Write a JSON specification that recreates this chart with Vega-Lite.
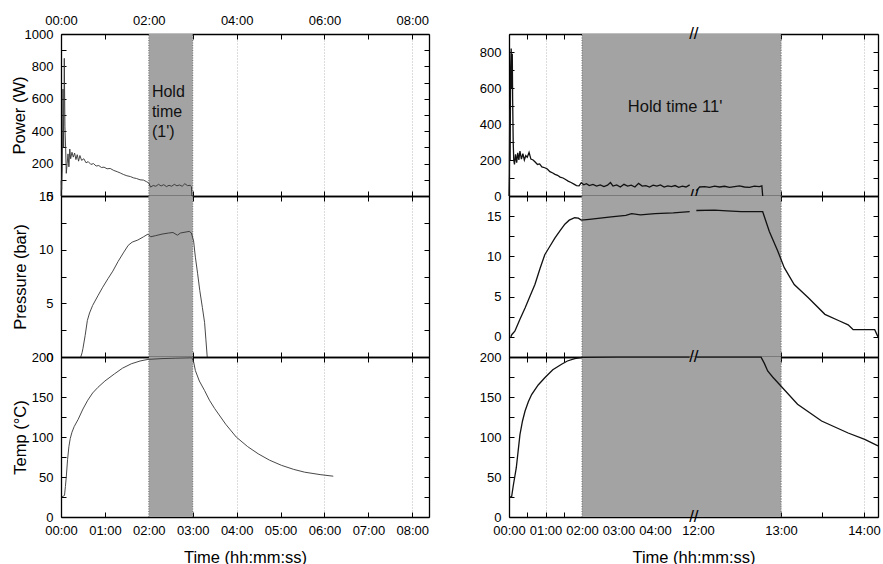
{
"$schema": "https://vega.github.io/schema/vega-lite/v6.json",
"padding": {"left": 11, "top": 14, "right": 0, "bottom": 0},
"background": "white",
"config": {
  "font": "Liberation Sans",
  "view": {"stroke": null},
  "axis": {"labelFont": "Liberation Sans", "labelFontSize": 13, "labelColor": "#000", "titleFont": "Liberation Sans", "titleFontSize": 16.5, "titleFontWeight": "normal", "titleColor": "#000", "domainColor": "#000", "domainWidth": 1.3, "tickColor": "#000", "tickWidth": 1, "tickSize": -5, "gridColor": "#b8b8b8", "gridDash": [1, 2], "gridWidth": 1, "gridOpacity": 0, "labelOverlap": false, "labelFlush": false, "labelBound": false, "labelPadding": 13, "zindex": 1}
},
"datasets": {
  "holdL": [{"start": 2, "end": 3}],
  "holdR": [{"start": 2, "end": 13}],
  "noteL": [{"t": 2.07, "v": 614, "label": "Hold\ntime\n(1')"}],
  "noteR": [{"t": 4.55, "v": 467, "label": "Hold time 11'"}],
  "brkP": [{"t": 11.95, "v": 900}, {"t": 11.95, "v": 0}],
  "brkT": [{"t": 11.95, "v": 200}, {"t": 11.95, "v": 0}],
  "Lpow": [{"t":0.0,"v":0},{"t":0.005,"v":95},{"t":0.015,"v":40},{"t":0.03,"v":180},{"t":0.045,"v":660},{"t":0.06,"v":300},{"t":0.075,"v":850},{"t":0.09,"v":430},{"t":0.105,"v":300},{"t":0.12,"v":140},{"t":0.14,"v":200},{"t":0.16,"v":260},{"t":0.18,"v":180},{"t":0.2,"v":290},{"t":0.22,"v":230},{"t":0.25,"v":270},{"t":0.28,"v":240},{"t":0.31,"v":265},{"t":0.34,"v":225},{"t":0.37,"v":255},{"t":0.4,"v":215},{"t":0.43,"v":250},{"t":0.47,"v":220},{"t":0.52,"v":230},{"t":0.57,"v":205},{"t":0.62,"v":212},{"t":0.68,"v":195},{"t":0.74,"v":200},{"t":0.8,"v":185},{"t":0.86,"v":188},{"t":0.92,"v":176},{"t":0.98,"v":178},{"t":1.05,"v":168},{"t":1.12,"v":170},{"t":1.2,"v":158},{"t":1.28,"v":150},{"t":1.35,"v":142},{"t":1.42,"v":133},{"t":1.5,"v":125},{"t":1.58,"v":120},{"t":1.65,"v":112},{"t":1.72,"v":108},{"t":1.8,"v":100},{"t":1.88,"v":98},{"t":1.95,"v":88},{"t":2.0,"v":80},{"t":2.04,"v":55},{"t":2.1,"v":65},{"t":2.16,"v":60},{"t":2.22,"v":72},{"t":2.28,"v":62},{"t":2.34,"v":70},{"t":2.4,"v":58},{"t":2.46,"v":66},{"t":2.52,"v":60},{"t":2.58,"v":72},{"t":2.64,"v":63},{"t":2.7,"v":68},{"t":2.76,"v":60},{"t":2.82,"v":76},{"t":2.88,"v":64},{"t":2.94,"v":66},{"t":2.97,"v":58},{"t":2.98,"v":0}],
  "Lpre": [{"t":0.45,"v":0},{"t":0.48,"v":0.4},{"t":0.5,"v":0.8},{"t":0.55,"v":2.0},{"t":0.6,"v":3.4},{"t":0.65,"v":4.1},{"t":0.72,"v":4.8},{"t":0.84,"v":5.7},{"t":0.95,"v":6.5},{"t":1.07,"v":7.3},{"t":1.18,"v":8.0},{"t":1.3,"v":8.9},{"t":1.42,"v":9.7},{"t":1.53,"v":10.4},{"t":1.62,"v":10.7},{"t":1.75,"v":10.9},{"t":1.88,"v":11.2},{"t":1.98,"v":11.45},{"t":2.04,"v":11.2},{"t":2.15,"v":11.3},{"t":2.3,"v":11.45},{"t":2.45,"v":11.55},{"t":2.55,"v":11.6},{"t":2.65,"v":11.35},{"t":2.72,"v":11.55},{"t":2.85,"v":11.65},{"t":2.92,"v":11.7},{"t":2.97,"v":11.55},{"t":3.02,"v":10.8},{"t":3.06,"v":9.3},{"t":3.11,"v":7.8},{"t":3.16,"v":6.2},{"t":3.22,"v":4.6},{"t":3.27,"v":3.2},{"t":3.3,"v":1.6},{"t":3.33,"v":0}],
  "Ltmp": [{"t":0.02,"v":25},{"t":0.08,"v":27},{"t":0.1,"v":38},{"t":0.12,"v":50},{"t":0.15,"v":72},{"t":0.18,"v":88},{"t":0.21,"v":98},{"t":0.25,"v":106},{"t":0.3,"v":113},{"t":0.39,"v":122},{"t":0.5,"v":135},{"t":0.61,"v":146},{"t":0.72,"v":155},{"t":0.84,"v":162},{"t":1.0,"v":170},{"t":1.22,"v":179},{"t":1.4,"v":186},{"t":1.6,"v":191.5},{"t":1.8,"v":195},{"t":1.98,"v":197},{"t":2.3,"v":198},{"t":2.6,"v":198.5},{"t":2.98,"v":199},{"t":3.02,"v":194},{"t":3.06,"v":183},{"t":3.15,"v":170},{"t":3.27,"v":158},{"t":3.38,"v":146},{"t":3.5,"v":135.5},{"t":3.75,"v":116},{"t":3.99,"v":100},{"t":4.25,"v":88},{"t":4.49,"v":79},{"t":4.75,"v":71},{"t":5.02,"v":64.6},{"t":5.3,"v":59.5},{"t":5.55,"v":56},{"t":5.9,"v":53},{"t":6.2,"v":51}],
  "Rpow": [{"seg":0,"t":0.0,"v":0},{"seg":0,"t":0.01,"v":130},{"seg":0,"t":0.02,"v":480},{"seg":0,"t":0.03,"v":200},{"seg":0,"t":0.045,"v":713},{"seg":0,"t":0.06,"v":820},{"seg":0,"t":0.075,"v":600},{"seg":0,"t":0.09,"v":790},{"seg":0,"t":0.1,"v":530},{"seg":0,"t":0.115,"v":300},{"seg":0,"t":0.13,"v":200},{"seg":0,"t":0.15,"v":176},{"seg":0,"t":0.18,"v":231},{"seg":0,"t":0.21,"v":185},{"seg":0,"t":0.24,"v":240},{"seg":0,"t":0.27,"v":200},{"seg":0,"t":0.3,"v":250},{"seg":0,"t":0.34,"v":205},{"seg":0,"t":0.38,"v":235},{"seg":0,"t":0.42,"v":200},{"seg":0,"t":0.46,"v":225},{"seg":0,"t":0.5,"v":215},{"seg":0,"t":0.55,"v":242},{"seg":0,"t":0.6,"v":205},{"seg":0,"t":0.66,"v":200},{"seg":0,"t":0.71,"v":190},{"seg":0,"t":0.78,"v":175},{"seg":0,"t":0.84,"v":178},{"seg":0,"t":0.9,"v":162},{"seg":0,"t":0.98,"v":157},{"seg":0,"t":1.05,"v":150},{"seg":0,"t":1.12,"v":135},{"seg":0,"t":1.2,"v":128},{"seg":0,"t":1.26,"v":120},{"seg":0,"t":1.33,"v":115},{"seg":0,"t":1.4,"v":105},{"seg":0,"t":1.48,"v":100},{"seg":0,"t":1.55,"v":92},{"seg":0,"t":1.62,"v":83},{"seg":0,"t":1.7,"v":75},{"seg":0,"t":1.78,"v":66},{"seg":0,"t":1.85,"v":58},{"seg":0,"t":1.92,"v":56},{"seg":0,"t":1.98,"v":74},{"seg":0,"t":2.05,"v":62},{"seg":0,"t":2.12,"v":68},{"seg":0,"t":2.2,"v":58},{"seg":0,"t":2.3,"v":64},{"seg":0,"t":2.4,"v":55},{"seg":0,"t":2.5,"v":62},{"seg":0,"t":2.6,"v":52},{"seg":0,"t":2.7,"v":60},{"seg":0,"t":2.78,"v":75},{"seg":0,"t":2.85,"v":55},{"seg":0,"t":2.95,"v":62},{"seg":0,"t":3.05,"v":50},{"seg":0,"t":3.15,"v":65},{"seg":0,"t":3.25,"v":55},{"seg":0,"t":3.35,"v":60},{"seg":0,"t":3.45,"v":50},{"seg":0,"t":3.55,"v":70},{"seg":0,"t":3.65,"v":55},{"seg":0,"t":3.75,"v":58},{"seg":0,"t":3.85,"v":50},{"seg":0,"t":3.95,"v":60},{"seg":0,"t":4.05,"v":55},{"seg":0,"t":4.15,"v":62},{"seg":0,"t":4.25,"v":50},{"seg":0,"t":4.35,"v":56},{"seg":0,"t":4.45,"v":52},{"seg":0,"t":4.55,"v":58},{"seg":0,"t":4.65,"v":48},{"seg":0,"t":4.75,"v":55},{"seg":0,"t":4.85,"v":50},{"seg":0,"t":4.95,"v":62},{"seg":1,"t":11.98,"v":30},{"seg":1,"t":12.02,"v":50},{"seg":1,"t":12.08,"v":52},{"seg":1,"t":12.14,"v":48},{"seg":1,"t":12.2,"v":55},{"seg":1,"t":12.26,"v":50},{"seg":1,"t":12.32,"v":54},{"seg":1,"t":12.38,"v":48},{"seg":1,"t":12.44,"v":52},{"seg":1,"t":12.5,"v":56},{"seg":1,"t":12.56,"v":50},{"seg":1,"t":12.62,"v":48},{"seg":1,"t":12.68,"v":55},{"seg":1,"t":12.74,"v":52},{"seg":1,"t":12.77,"v":56},{"seg":1,"t":12.78,"v":0}],
  "Rpre": [{"seg":0,"t":0.05,"v":0},{"seg":0,"t":0.08,"v":0.3},{"seg":0,"t":0.16,"v":0.7},{"seg":0,"t":0.3,"v":2.2},{"seg":0,"t":0.44,"v":3.6},{"seg":0,"t":0.58,"v":5.1},{"seg":0,"t":0.71,"v":6.5},{"seg":0,"t":0.85,"v":8.5},{"seg":0,"t":0.98,"v":10.2},{"seg":0,"t":1.1,"v":11.1},{"seg":0,"t":1.26,"v":12.3},{"seg":0,"t":1.4,"v":13.2},{"seg":0,"t":1.53,"v":14.0},{"seg":0,"t":1.65,"v":14.5},{"seg":0,"t":1.8,"v":14.8},{"seg":0,"t":1.9,"v":14.75},{"seg":0,"t":1.98,"v":14.5},{"seg":0,"t":2.2,"v":14.6},{"seg":0,"t":2.5,"v":14.75},{"seg":0,"t":2.8,"v":14.9},{"seg":0,"t":3.0,"v":15.0},{"seg":0,"t":3.2,"v":15.1},{"seg":0,"t":3.36,"v":15.3},{"seg":0,"t":3.6,"v":15.15},{"seg":0,"t":4.0,"v":15.3},{"seg":0,"t":4.5,"v":15.4},{"seg":0,"t":4.95,"v":15.55},{"seg":1,"t":11.98,"v":15.7},{"seg":1,"t":12.2,"v":15.75},{"seg":1,"t":12.35,"v":15.65},{"seg":1,"t":12.52,"v":15.55},{"seg":1,"t":12.78,"v":15.55},{"seg":1,"t":12.86,"v":13.1},{"seg":1,"t":12.96,"v":10.7},{"seg":1,"t":13.04,"v":8.6},{"seg":1,"t":13.16,"v":6.5},{"seg":1,"t":13.33,"v":4.85},{"seg":1,"t":13.53,"v":2.8},{"seg":1,"t":13.7,"v":2.0},{"seg":1,"t":13.81,"v":1.5},{"seg":1,"t":13.86,"v":1.0},{"seg":1,"t":13.87,"v":0.9},{"seg":1,"t":14.13,"v":0.9},{"seg":1,"t":14.17,"v":0}],
  "Rtmp": [{"seg":0,"t":0.02,"v":25},{"seg":0,"t":0.07,"v":25},{"seg":0,"t":0.12,"v":40},{"seg":0,"t":0.2,"v":61.6},{"seg":0,"t":0.3,"v":103},{"seg":0,"t":0.37,"v":120},{"seg":0,"t":0.44,"v":132.5},{"seg":0,"t":0.53,"v":144},{"seg":0,"t":0.62,"v":153},{"seg":0,"t":0.8,"v":165},{"seg":0,"t":0.98,"v":174},{"seg":0,"t":1.2,"v":184},{"seg":0,"t":1.44,"v":191},{"seg":0,"t":1.6,"v":195},{"seg":0,"t":1.8,"v":198},{"seg":0,"t":2.0,"v":199.5},{"seg":0,"t":3.0,"v":199.8},{"seg":0,"t":4.95,"v":199.8},{"seg":1,"t":11.98,"v":199.8},{"seg":1,"t":12.76,"v":199.8},{"seg":1,"t":12.8,"v":192},{"seg":1,"t":12.84,"v":182.5},{"seg":1,"t":12.9,"v":175},{"seg":1,"t":12.98,"v":166},{"seg":1,"t":13.2,"v":141},{"seg":1,"t":13.49,"v":120},{"seg":1,"t":13.81,"v":105},{"seg":1,"t":14.01,"v":97},{"seg":1,"t":14.17,"v":89}]
},
"columns": 2,
"spacing": {"row": 0, "column": 80},
"bounds": "flush",
"concat": [
  {"width": 368, "height": 162,
   "resolve": {"axis": {"x": "independent", "y": "independent"}},
   "layer": [
    {"data": {"name": "holdL"}, "mark": {"type": "rect", "color": "#a3a3a3"},
     "encoding": {"x": {"field": "start", "type": "quantitative", "scale": {"domain": [0, 8.38], "nice": false, "zero": false}, "axis": {"orient": "bottom", "grid": true, "values": [0,1,2,3,4,5,6,7,8], "labels": false, "title": null}}, "x2": {"field": "end"},
      "y": {"datum": 0, "type": "quantitative", "scale": {"domain": [0, 1000], "nice": false, "zero": false}, "axis": null}, "y2": {"datum": 1000}}},
    {"data": {"name": "holdL"}, "transform": [{"fold": ["start", "end"], "as": ["edge", "t"]}], "mark": {"type": "rule", "color": "#6e6e6e", "strokeDash": [1, 1.5]},
     "encoding": {"x": {"field": "t", "type": "quantitative", "scale": {"domain": [0, 8.38], "nice": false, "zero": false}, "axis": {"orient": "bottom", "grid": true, "values": [2,4,6,8], "gridOpacity": 1, "ticks": false, "labels": false, "domain": false, "title": null, "zindex": 0}},
      "y": {"datum": 0, "type": "quantitative", "scale": {"domain": [0, 1000], "nice": false, "zero": false}, "axis": null}, "y2": {"datum": 1000}}},
    {"data": {"name": "Lpow"}, "mark": {"type": "line", "color": "#333", "strokeWidth": 0.9},
     "encoding": {"x": {"field": "t", "type": "quantitative", "scale": {"domain": [0, 8.38], "nice": false, "zero": false}, "axis": {"orient": "top", "grid": true, "values": [0,1,2,3,4,5,6,7,8], "labelExpr": "datum.value % 2 === 0 ? ((datum.value < 10 ? '0' : '') + datum.value + ':00') : ''", "labelPadding": 12, "title": null}},
      "y": {"field": "v", "type": "quantitative", "scale": {"domain": [0, 1000], "nice": false, "zero": false}, "axis": {"orient": "left", "grid": true, "values": [0,100,200,300,400,500,600,700,800,900,1000], "format": "d", "labelExpr": "datum.value % 200 === 0 ? datum.label : ''", "gridOpacity": {"condition": {"test": "datum.value % 200 === 0", "value": 1}, "value": 0}, "zindex": 0, "title": "Power (W)", "titleX": -42, "titleY": 81, "titleAngle": -90, "titleAlign": "center", "titleBaseline": "middle"}}}},
    {"data": {"name": "Lpow"}, "mark": {"type": "line", "strokeOpacity": 0},
     "encoding": {"x": {"field": "t", "type": "quantitative", "scale": {"domain": [0, 8.38], "nice": false, "zero": false}, "axis": null},
      "y": {"field": "v", "type": "quantitative", "scale": {"domain": [0, 1000], "nice": false, "zero": false}, "axis": {"orient": "right", "grid": true, "values": [0,100,200,300,400,500,600,700,800,900,1000], "labels": false, "title": null}}}},
    {"data": {"name": "noteL"}, "mark": {"type": "text", "align": "left", "baseline": "alphabetic", "fontSize": 16, "lineHeight": 20, "lineBreak": "\n", "color": "#111"},
     "encoding": {"x": {"field": "t", "type": "quantitative", "scale": {"domain": [0, 8.38], "nice": false, "zero": false}, "axis": null}, "y": {"field": "v", "type": "quantitative", "scale": {"domain": [0, 1000], "nice": false, "zero": false}, "axis": null}, "text": {"field": "label"}}}
   ]},
  {"width": 369, "height": 162,
   "resolve": {"axis": {"x": "independent", "y": "independent"}},
   "layer": [
    {"data": {"name": "holdR"}, "mark": {"type": "rect", "color": "#a3a3a3"},
     "encoding": {"x": {"field": "start", "type": "quantitative", "scale": {"domain": [0, 5, 11.95, 14.17], "range": [0, 182.5, 184.85, 369], "nice": false, "zero": false}, "axis": {"orient": "bottom", "grid": true, "values": [0,0.5,1,1.5,2,2.5,3,3.5,4,4.5,12,12.5,13,13.5,14], "labels": false, "title": null}}, "x2": {"field": "end"},
      "y": {"datum": 0, "type": "quantitative", "scale": {"domain": [0, 900], "nice": false, "zero": false}, "axis": null}, "y2": {"datum": 900}}},
    {"data": {"name": "holdR"}, "transform": [{"fold": ["start", "end"], "as": ["edge", "t"]}], "mark": {"type": "rule", "color": "#6e6e6e", "strokeDash": [1, 1.5]},
     "encoding": {"x": {"field": "t", "type": "quantitative", "scale": {"domain": [0, 5, 11.95, 14.17], "range": [0, 182.5, 184.85, 369], "nice": false, "zero": false}, "axis": {"orient": "bottom", "grid": true, "values": [1,2,3,4,12,13,14], "gridOpacity": 1, "ticks": false, "labels": false, "domain": false, "title": null, "zindex": 0}},
      "y": {"datum": 0, "type": "quantitative", "scale": {"domain": [0, 900], "nice": false, "zero": false}, "axis": null}, "y2": {"datum": 900}}},
    {"data": {"name": "Rpow"}, "mark": {"type": "line", "color": "#111", "strokeWidth": 1.3},
     "encoding": {"detail": {"field": "seg", "type": "nominal"}, "x": {"field": "t", "type": "quantitative", "scale": {"domain": [0, 5, 11.95, 14.17], "range": [0, 182.5, 184.85, 369], "nice": false, "zero": false}, "axis": {"orient": "top", "grid": true, "values": [0,0.5,1,1.5,2,2.5,3,3.5,4,4.5,12,12.5,13,13.5,14], "labels": false, "title": null}},
      "y": {"field": "v", "type": "quantitative", "scale": {"domain": [0, 900], "nice": false, "zero": false}, "axis": {"orient": "left", "grid": true, "values": [0,100,200,300,400,500,600,700,800,900], "format": "d", "labelExpr": "datum.value % 200 === 0 ? datum.label : ''", "gridOpacity": {"condition": {"test": "datum.value % 200 === 0", "value": 1}, "value": 0}, "zindex": 0, "title": null}}}},
    {"data": {"name": "Rpow"}, "mark": {"type": "line", "strokeOpacity": 0},
     "encoding": {"detail": {"field": "seg", "type": "nominal"}, "x": {"field": "t", "type": "quantitative", "scale": {"domain": [0, 5, 11.95, 14.17], "range": [0, 182.5, 184.85, 369], "nice": false, "zero": false}, "axis": null},
      "y": {"field": "v", "type": "quantitative", "scale": {"domain": [0, 900], "nice": false, "zero": false}, "axis": {"orient": "right", "grid": true, "values": [0,100,200,300,400,500,600,700,800,900], "labels": false, "title": null}}}},
    {"data": {"name": "noteR"}, "mark": {"type": "text", "align": "center", "baseline": "alphabetic", "fontSize": 16.5, "color": "#111"},
     "encoding": {"x": {"field": "t", "type": "quantitative", "scale": {"domain": [0, 5, 11.95, 14.17], "range": [0, 182.5, 184.85, 369], "nice": false, "zero": false}, "axis": null}, "y": {"field": "v", "type": "quantitative", "scale": {"domain": [0, 900], "nice": false, "zero": false}, "axis": null}, "text": {"field": "label"}}},
    {"data": {"name": "brkP"}, "mark": {"type": "text", "align": "center", "baseline": "middle", "fontSize": 17, "color": "#000", "text": "//"},
     "encoding": {"x": {"field": "t", "type": "quantitative", "scale": {"domain": [0, 5, 11.95, 14.17], "range": [0, 182.5, 184.85, 369], "nice": false, "zero": false}, "axis": null}, "y": {"field": "v", "type": "quantitative", "scale": {"domain": [0, 900], "nice": false, "zero": false}, "axis": null}}}
   ]},
  {"width": 368, "height": 161,
   "resolve": {"axis": {"x": "independent", "y": "independent"}},
   "layer": [
    {"data": {"name": "holdL"}, "mark": {"type": "rect", "color": "#a3a3a3"},
     "encoding": {"x": {"field": "start", "type": "quantitative", "scale": {"domain": [0, 8.38], "nice": false, "zero": false}, "axis": {"orient": "bottom", "grid": true, "values": [0,1,2,3,4,5,6,7,8], "labels": false, "title": null}}, "x2": {"field": "end"},
      "y": {"datum": 0, "type": "quantitative", "scale": {"domain": [0, 15], "nice": false, "zero": false}, "axis": null}, "y2": {"datum": 15}}},
    {"data": {"name": "holdL"}, "transform": [{"fold": ["start", "end"], "as": ["edge", "t"]}], "mark": {"type": "rule", "color": "#6e6e6e", "strokeDash": [1, 1.5]},
     "encoding": {"x": {"field": "t", "type": "quantitative", "scale": {"domain": [0, 8.38], "nice": false, "zero": false}, "axis": {"orient": "bottom", "grid": true, "values": [2,4,6,8], "gridOpacity": 1, "ticks": false, "labels": false, "domain": false, "title": null, "zindex": 0}},
      "y": {"datum": 0, "type": "quantitative", "scale": {"domain": [0, 15], "nice": false, "zero": false}, "axis": null}, "y2": {"datum": 15}}},
    {"data": {"name": "Lpre"}, "mark": {"type": "line", "color": "#333", "strokeWidth": 0.9},
     "encoding": {"x": {"field": "t", "type": "quantitative", "scale": {"domain": [0, 8.38], "nice": false, "zero": false}, "axis": {"orient": "top", "grid": true, "values": [0,1,2,3,4,5,6,7,8], "labels": false, "title": null}},
      "y": {"field": "v", "type": "quantitative", "scale": {"domain": [0, 15], "nice": false, "zero": false}, "axis": {"orient": "left", "grid": true, "values": [0,2.5,5,7.5,10,12.5,15], "format": "d", "labelExpr": "datum.value % 5 === 0 ? datum.label : ''", "gridOpacity": {"condition": {"test": "datum.value % 5 === 0", "value": 1}, "value": 0}, "zindex": 0, "title": "Pressure (bar)", "titleX": -41, "titleY": 80.5, "titleAngle": -90, "titleAlign": "center", "titleBaseline": "middle"}}}},
    {"data": {"name": "Lpre"}, "mark": {"type": "line", "strokeOpacity": 0},
     "encoding": {"x": {"field": "t", "type": "quantitative", "scale": {"domain": [0, 8.38], "nice": false, "zero": false}, "axis": null},
      "y": {"field": "v", "type": "quantitative", "scale": {"domain": [0, 15], "nice": false, "zero": false}, "axis": {"orient": "right", "grid": true, "values": [0,2.5,5,7.5,10,12.5,15], "labels": false, "title": null}}}}
   ]},
  {"width": 369, "height": 161,
   "resolve": {"axis": {"x": "independent", "y": "independent"}},
   "layer": [
    {"data": {"name": "holdR"}, "mark": {"type": "rect", "color": "#a3a3a3"},
     "encoding": {"x": {"field": "start", "type": "quantitative", "scale": {"domain": [0, 5, 11.95, 14.17], "range": [0, 182.5, 184.85, 369], "nice": false, "zero": false}, "axis": {"orient": "bottom", "grid": true, "values": [0,0.5,1,1.5,2,2.5,3,3.5,4,4.5,12,12.5,13,13.5,14], "labels": false, "title": null}}, "x2": {"field": "end"},
      "y": {"datum": -2.5, "type": "quantitative", "scale": {"domain": [-2.5, 17.5], "nice": false, "zero": false}, "axis": null}, "y2": {"datum": 17.5}}},
    {"data": {"name": "holdR"}, "transform": [{"fold": ["start", "end"], "as": ["edge", "t"]}], "mark": {"type": "rule", "color": "#6e6e6e", "strokeDash": [1, 1.5]},
     "encoding": {"x": {"field": "t", "type": "quantitative", "scale": {"domain": [0, 5, 11.95, 14.17], "range": [0, 182.5, 184.85, 369], "nice": false, "zero": false}, "axis": {"orient": "bottom", "grid": true, "values": [1,2,3,4,12,13,14], "gridOpacity": 1, "ticks": false, "labels": false, "domain": false, "title": null, "zindex": 0}},
      "y": {"datum": -2.5, "type": "quantitative", "scale": {"domain": [-2.5, 17.5], "nice": false, "zero": false}, "axis": null}, "y2": {"datum": 17.5}}},
    {"data": {"name": "Rpre"}, "mark": {"type": "line", "color": "#111", "strokeWidth": 1.3},
     "encoding": {"detail": {"field": "seg", "type": "nominal"}, "x": {"field": "t", "type": "quantitative", "scale": {"domain": [0, 5, 11.95, 14.17], "range": [0, 182.5, 184.85, 369], "nice": false, "zero": false}, "axis": {"orient": "top", "grid": true, "values": [0,0.5,1,1.5,2,2.5,3,3.5,4,4.5,12,12.5,13,13.5,14], "labels": false, "title": null}},
      "y": {"field": "v", "type": "quantitative", "scale": {"domain": [-2.5, 17.5], "nice": false, "zero": false}, "axis": {"orient": "left", "grid": true, "values": [-2.5,0,2.5,5,7.5,10,12.5,15,17.5], "format": "d", "labelExpr": "datum.value % 5 === 0 ? datum.label : ''", "gridOpacity": {"condition": {"test": "datum.value % 5 === 0", "value": 1}, "value": 0}, "zindex": 0, "title": null}}}},
    {"data": {"name": "Rpre"}, "mark": {"type": "line", "strokeOpacity": 0},
     "encoding": {"detail": {"field": "seg", "type": "nominal"}, "x": {"field": "t", "type": "quantitative", "scale": {"domain": [0, 5, 11.95, 14.17], "range": [0, 182.5, 184.85, 369], "nice": false, "zero": false}, "axis": null},
      "y": {"field": "v", "type": "quantitative", "scale": {"domain": [-2.5, 17.5], "nice": false, "zero": false}, "axis": {"orient": "right", "grid": true, "values": [-2.5,0,2.5,5,7.5,10,12.5,15,17.5], "labels": false, "title": null}}}}
   ]},
  {"width": 368, "height": 160,
   "resolve": {"axis": {"x": "independent", "y": "independent"}},
   "layer": [
    {"data": {"name": "holdL"}, "mark": {"type": "rect", "color": "#a3a3a3"},
     "encoding": {"x": {"field": "start", "type": "quantitative", "scale": {"domain": [0, 8.38], "nice": false, "zero": false}, "axis": {"orient": "bottom", "grid": true, "values": [0,1,2,3,4,5,6,7,8], "labelExpr": "(datum.value < 10 ? '0' : '') + datum.value + ':00'", "labelPadding": 12, "title": "Time (hh:mm:ss)", "titlePadding": 12}}, "x2": {"field": "end"},
      "y": {"datum": 0, "type": "quantitative", "scale": {"domain": [0, 200], "nice": false, "zero": false}, "axis": null}, "y2": {"datum": 200}}},
    {"data": {"name": "holdL"}, "transform": [{"fold": ["start", "end"], "as": ["edge", "t"]}], "mark": {"type": "rule", "color": "#6e6e6e", "strokeDash": [1, 1.5]},
     "encoding": {"x": {"field": "t", "type": "quantitative", "scale": {"domain": [0, 8.38], "nice": false, "zero": false}, "axis": {"orient": "bottom", "grid": true, "values": [2,4,6,8], "gridOpacity": 1, "ticks": false, "labels": false, "domain": false, "title": null, "zindex": 0}},
      "y": {"datum": 0, "type": "quantitative", "scale": {"domain": [0, 200], "nice": false, "zero": false}, "axis": null}, "y2": {"datum": 200}}},
    {"data": {"name": "Ltmp"}, "mark": {"type": "line", "color": "#333", "strokeWidth": 0.9},
     "encoding": {"x": {"field": "t", "type": "quantitative", "scale": {"domain": [0, 8.38], "nice": false, "zero": false}, "axis": {"orient": "top", "grid": true, "values": [0,1,2,3,4,5,6,7,8], "labels": false, "title": null}},
      "y": {"field": "v", "type": "quantitative", "scale": {"domain": [0, 200], "nice": false, "zero": false}, "axis": {"orient": "left", "grid": true, "values": [0,25,50,75,100,125,150,175,200], "format": "d", "labelExpr": "datum.value % 50 === 0 ? datum.label : ''", "gridOpacity": {"condition": {"test": "datum.value % 50 === 0", "value": 1}, "value": 0}, "zindex": 0, "title": "Temp (°C)", "titleX": -41, "titleY": 80, "titleAngle": -90, "titleAlign": "center", "titleBaseline": "middle"}}}},
    {"data": {"name": "Ltmp"}, "mark": {"type": "line", "strokeOpacity": 0},
     "encoding": {"x": {"field": "t", "type": "quantitative", "scale": {"domain": [0, 8.38], "nice": false, "zero": false}, "axis": null},
      "y": {"field": "v", "type": "quantitative", "scale": {"domain": [0, 200], "nice": false, "zero": false}, "axis": {"orient": "right", "grid": true, "values": [0,25,50,75,100,125,150,175,200], "labels": false, "title": null}}}}
   ]},
  {"width": 369, "height": 160,
   "resolve": {"axis": {"x": "independent", "y": "independent"}},
   "layer": [
    {"data": {"name": "holdR"}, "mark": {"type": "rect", "color": "#a3a3a3"},
     "encoding": {"x": {"field": "start", "type": "quantitative", "scale": {"domain": [0, 5, 11.95, 14.17], "range": [0, 182.5, 184.85, 369], "nice": false, "zero": false}, "axis": {"orient": "bottom", "grid": true, "values": [0,0.5,1,1.5,2,2.5,3,3.5,4,4.5,12,12.5,13,13.5,14], "labelExpr": "datum.value % 1 === 0 ? ((datum.value < 10 ? '0' : '') + datum.value + ':00') : ''", "labelPadding": 12, "title": "Time (hh:mm:ss)", "titlePadding": 12}}, "x2": {"field": "end"},
      "y": {"datum": 0, "type": "quantitative", "scale": {"domain": [0, 200], "nice": false, "zero": false}, "axis": null}, "y2": {"datum": 200}}},
    {"data": {"name": "holdR"}, "transform": [{"fold": ["start", "end"], "as": ["edge", "t"]}], "mark": {"type": "rule", "color": "#6e6e6e", "strokeDash": [1, 1.5]},
     "encoding": {"x": {"field": "t", "type": "quantitative", "scale": {"domain": [0, 5, 11.95, 14.17], "range": [0, 182.5, 184.85, 369], "nice": false, "zero": false}, "axis": {"orient": "bottom", "grid": true, "values": [1,2,3,4,12,13,14], "gridOpacity": 1, "ticks": false, "labels": false, "domain": false, "title": null, "zindex": 0}},
      "y": {"datum": 0, "type": "quantitative", "scale": {"domain": [0, 200], "nice": false, "zero": false}, "axis": null}, "y2": {"datum": 200}}},
    {"data": {"name": "Rtmp"}, "mark": {"type": "line", "color": "#111", "strokeWidth": 1.3},
     "encoding": {"detail": {"field": "seg", "type": "nominal"}, "x": {"field": "t", "type": "quantitative", "scale": {"domain": [0, 5, 11.95, 14.17], "range": [0, 182.5, 184.85, 369], "nice": false, "zero": false}, "axis": {"orient": "top", "grid": true, "values": [0,0.5,1,1.5,2,2.5,3,3.5,4,4.5,12,12.5,13,13.5,14], "labels": false, "title": null}},
      "y": {"field": "v", "type": "quantitative", "scale": {"domain": [0, 200], "nice": false, "zero": false}, "axis": {"orient": "left", "grid": true, "values": [0,25,50,75,100,125,150,175,200], "format": "d", "labelExpr": "datum.value % 50 === 0 ? datum.label : ''", "gridOpacity": {"condition": {"test": "datum.value % 50 === 0", "value": 1}, "value": 0}, "zindex": 0, "title": null}}}},
    {"data": {"name": "Rtmp"}, "mark": {"type": "line", "strokeOpacity": 0},
     "encoding": {"detail": {"field": "seg", "type": "nominal"}, "x": {"field": "t", "type": "quantitative", "scale": {"domain": [0, 5, 11.95, 14.17], "range": [0, 182.5, 184.85, 369], "nice": false, "zero": false}, "axis": null},
      "y": {"field": "v", "type": "quantitative", "scale": {"domain": [0, 200], "nice": false, "zero": false}, "axis": {"orient": "right", "grid": true, "values": [0,25,50,75,100,125,150,175,200], "labels": false, "title": null}}}},
    {"data": {"name": "brkT"}, "mark": {"type": "text", "align": "center", "baseline": "middle", "fontSize": 17, "color": "#000", "text": "//"},
     "encoding": {"x": {"field": "t", "type": "quantitative", "scale": {"domain": [0, 5, 11.95, 14.17], "range": [0, 182.5, 184.85, 369], "nice": false, "zero": false}, "axis": null}, "y": {"field": "v", "type": "quantitative", "scale": {"domain": [0, 200], "nice": false, "zero": false}, "axis": null}}}
   ]}
]
}
